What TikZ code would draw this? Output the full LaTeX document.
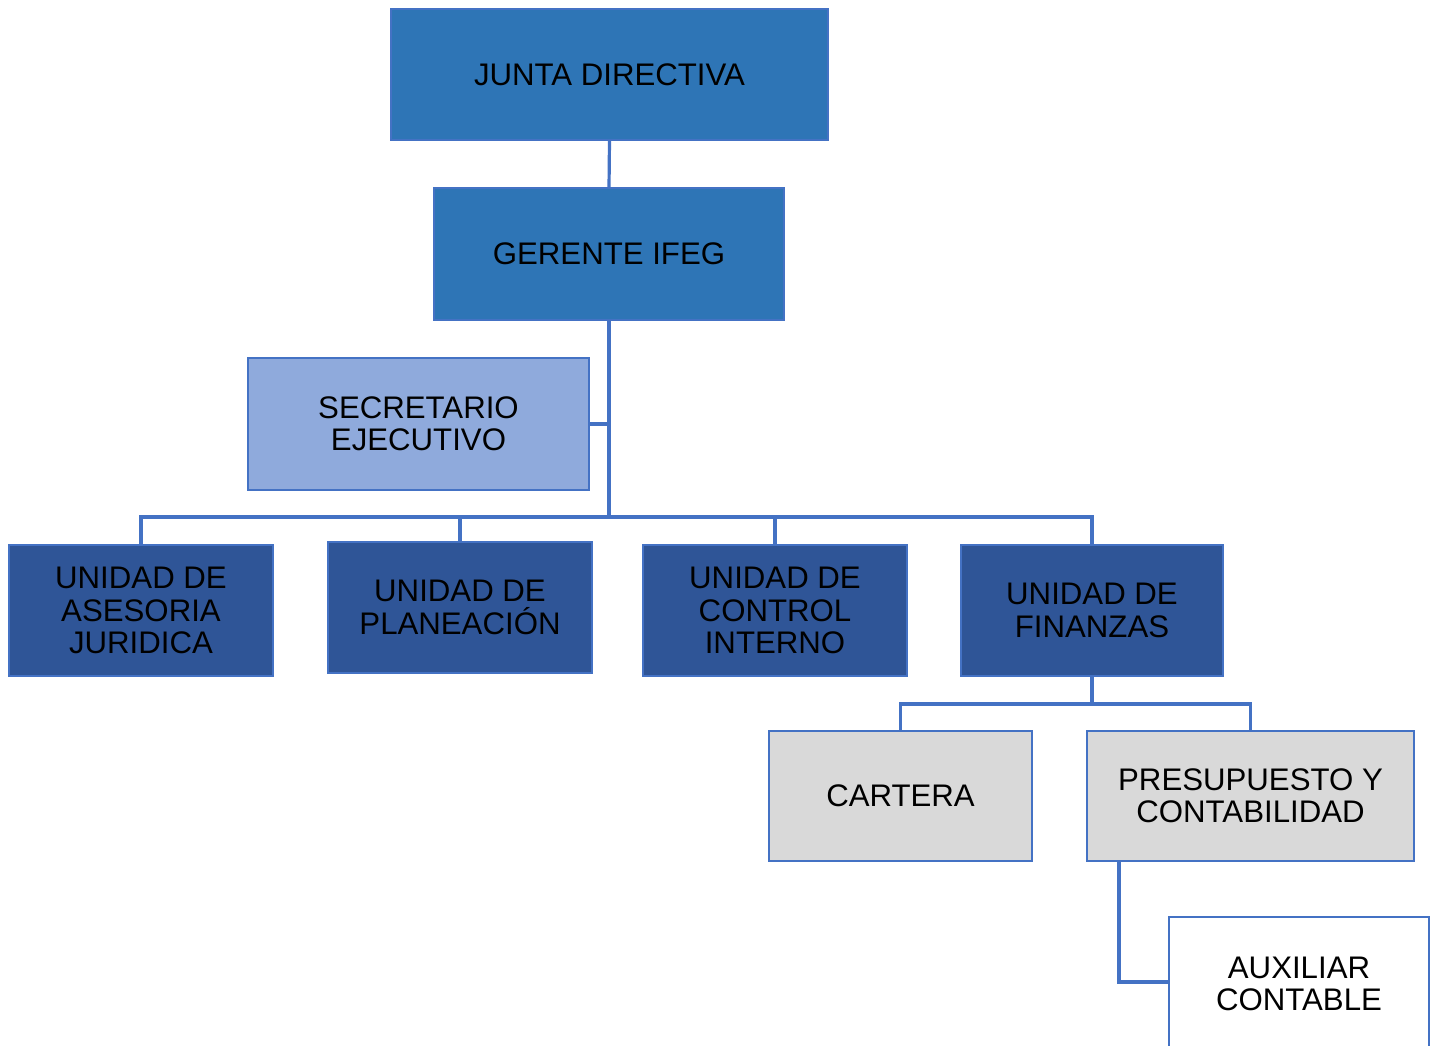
\documentclass[tikz,border=0pt]{standalone}
\usepackage{fontspec}
\setmainfont{Liberation Sans}
\definecolor{bord}{HTML}{4472C4}
\definecolor{topblue}{HTML}{2E75B6}
\definecolor{lightblue}{HTML}{8FAADC}
\definecolor{darkblue}{HTML}{2F5597}
\definecolor{lgray}{HTML}{D9D9D9}
\begin{document}
\begin{tikzpicture}[x=0.5pt,y=-0.5pt,
  box/.style={draw=bord,line width=1.4pt,inner sep=0pt,outer sep=0pt,align=center,
    font=\fontsize{15.6}{16.2}\selectfont,text=black},
  conn/.style={draw=bord,line width=1.6pt}]
\useasboundingbox (0,0) rectangle (1435,1045);
\clip (0,0) rectangle (1435,1045);
\node[box,fill=topblue,minimum width=218.5pt,minimum height=65.5pt] (junta) at (609.5,74.5) {JUNTA DIRECTIVA};
\node[box,fill=topblue,minimum width=175pt,minimum height=66pt] (gerente) at (609,254) {GERENTE IFEG};
\node[box,fill=lightblue,minimum width=170.5pt,minimum height=66pt] (secre) at (418.5,424) {SECRETARIO\\EJECUTIVO};
\node[box,fill=darkblue,minimum width=132pt,minimum height=65.5pt] (asesoria) at (141,610.5) {UNIDAD DE\\ASESORIA\\JURIDICA};
\node[box,fill=darkblue,minimum width=132pt,minimum height=65.5pt] (planeacion) at (460,607.5) {UNIDAD DE\\PLANEACIÓN};
\node[box,fill=darkblue,minimum width=132pt,minimum height=65.5pt] (control) at (775,610.5) {UNIDAD DE\\CONTROL\\INTERNO};
\node[box,fill=darkblue,minimum width=131pt,minimum height=65.5pt] (finanzas) at (1092,610.5) {UNIDAD DE\\FINANZAS};
\node[box,fill=lgray,minimum width=131.5pt,minimum height=65pt] (cartera) at (900.5,796) {CARTERA};
\node[box,fill=lgray,minimum width=163.5pt,minimum height=65pt] (presupuesto) at (1250.5,796) {PRESUPUESTO Y\\CONTABILIDAD};
\node[box,fill=white,minimum width=130pt,minimum height=67pt] (auxiliar) at (1299,984) {AUXILIAR\\CONTABLE};
\coordinate (hub) at (609,517);
\coordinate (fh) at (1092,704);
\draw[conn] (junta.south) -- (gerente.north);
\draw[conn] (gerente.south) -- (hub);
\draw[conn] (secre.east) -- (secre.east -| hub);
\draw[conn] (asesoria.north) |- (hub);
\draw[conn] (planeacion.north) |- (hub);
\draw[conn] (hub) -| (finanzas.north);
\draw[conn] (hub -| control.north) -- (control.north);
\draw[conn] (finanzas.south) -- (fh);
\draw[conn] (cartera.north) |- (fh) -| (presupuesto.north);
\draw[conn] ([xshift=16pt]presupuesto.south west) |- ([yshift=1pt]auxiliar.west);
\end{tikzpicture}
\end{document}
